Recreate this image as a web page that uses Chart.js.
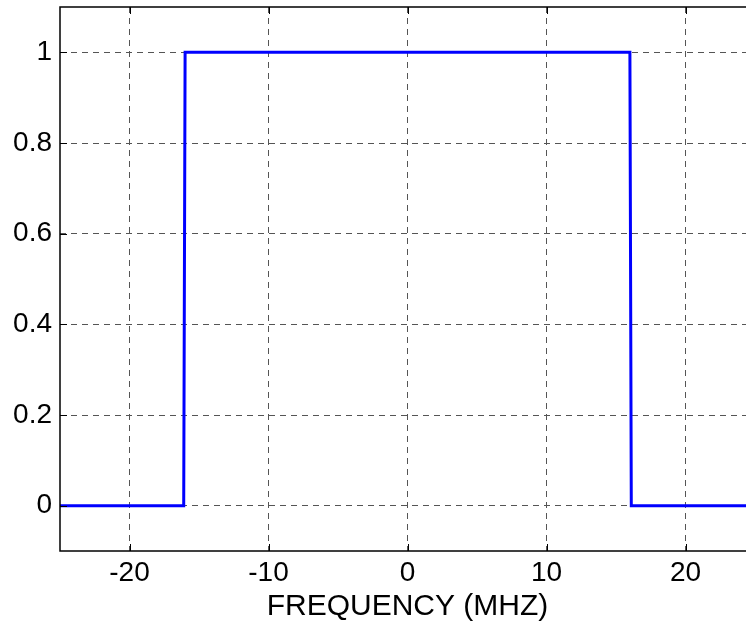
<!DOCTYPE html>
<html>
<head>
<meta charset="utf-8">
<script src="https://cdn.jsdelivr.net/npm/chart.js@4"></script>
<style>
html,body{margin:0;padding:0;background:#fff;overflow:hidden;}
#wrap{width:760px;height:625px;}
</style>
</head>
<body>
<div id="wrap"><canvas id="c" width="760" height="625"></canvas></div>
<script>
// Data
const freqMHz   = [-25, -16.1, -16, 16, 16.1, 25];
const magnitude = [0, 0, 1, 1, 0, 0];
const xTickValues = [-20, -10, 0, 10, 20];
const yTickValues = [0, 0.2, 0.4, 0.6, 0.8, 1];
const xTitle = 'FREQUENCY (MHZ)';

const FONT = '"Liberation Sans", Arial, Helvetica, sans-serif';

const frameTicks = {
  id: 'frameTicks',
  afterDraw(chart) {
    const {ctx, chartArea: a, scales: {x, y}} = chart;
    ctx.save();
    ctx.strokeStyle = '#000';
    ctx.lineWidth = 1.5;
    ctx.setLineDash([]);
    ctx.strokeRect(a.left, a.top, a.right - a.left, a.bottom - a.top);
    ctx.lineWidth = 1;
    const L = 7;
    x.ticks.forEach(t => {
      const px = Math.round(x.getPixelForValue(t.value)) + 0.5;
      ctx.beginPath();
      ctx.moveTo(px, a.bottom); ctx.lineTo(px, a.bottom - L);
      ctx.moveTo(px, a.top); ctx.lineTo(px, a.top + L);
      ctx.stroke();
    });
    y.ticks.forEach(t => {
      const py = Math.round(y.getPixelForValue(t.value)) + 0.5;
      ctx.beginPath();
      ctx.moveTo(a.left, py); ctx.lineTo(a.left + L, py);
      ctx.moveTo(a.right, py); ctx.lineTo(a.right - L, py);
      ctx.stroke();
    });
    ctx.restore();
  }
};

new Chart(document.getElementById('c'), {
  type: 'line',
  data: {
    datasets: [{
      data: freqMHz.map((f, i) => ({x: f, y: magnitude[i]})),
      borderColor: '#0000ff',
      borderWidth: 3,
      pointRadius: 0,
      tension: 0,
      fill: false,
      borderJoinStyle: 'miter'
    }]
  },
  options: {
    responsive: false,
    animation: false,
    layout: {autoPadding: false, padding: {top: 7, right: 5, left: 0, bottom: 0}},
    plugins: {legend: {display: false}, tooltip: {enabled: false}},
    scales: {
      x: {
        type: 'linear',
        min: -25, max: 25,
        afterBuildTicks: s => { s.ticks = xTickValues.map(v => ({value: v})); },
        afterFit: s => { s.height = 74; s.paddingLeft = 0; s.paddingRight = 0; },
        grid: {color: '#555', lineWidth: 1, drawTicks: false},
        border: {display: false, dash: [6, 5]},
        ticks: {color: '#000', padding: 5, font: {family: FONT, size: 28}, maxRotation: 0},
        title: {display: true, text: xTitle, color: '#000', font: {family: FONT, size: 30}, padding: {top: 0, bottom: 0}}
      },
      y: {
        type: 'linear',
        min: -0.1, max: 1.1,
        afterBuildTicks: s => { s.ticks = yTickValues.map(v => ({value: v})); },
        afterFit: s => { s.width = 60; s.paddingTop = 0; s.paddingBottom = 0; },
        grid: {color: '#555', lineWidth: 1, drawTicks: false},
        border: {display: false, dash: [6, 5]},
        ticks: {color: '#000', padding: 8, font: {family: FONT, size: 28},
                callback: v => String(Math.round(v * 10) / 10)}
      }
    }
  },
  plugins: [frameTicks]
});
</script>
</body>
</html>
